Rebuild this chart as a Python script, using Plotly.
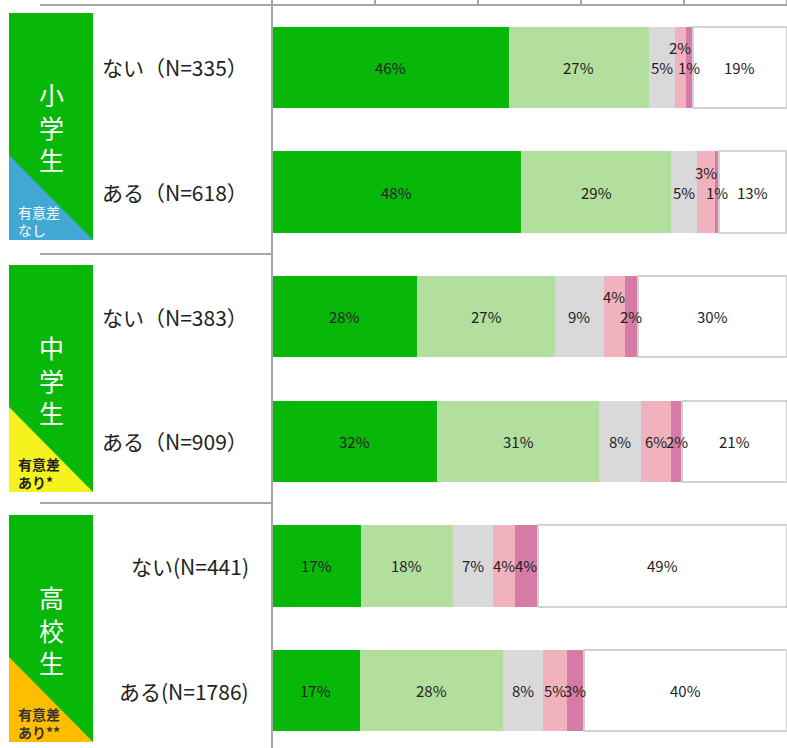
import plotly.graph_objects as go

# ---------------- data ----------------
row_keys = ["小学生・ない", "小学生・ある", "中学生・ない", "中学生・ある", "高校生・ない", "高校生・ある"]
row_labels = ["ない（N=335）", "ある（N=618）", "ない（N=383）", "ある（N=909）", "ない(N=441)", "ある(N=1786)"]
group_names = ["小<br>学<br>生", "中<br>学<br>生", "高<br>校<br>生"]
group_notes = ["有意差<br>なし", "有意差<br>あり*", "有意差<br>あり**"]

# bar lengths (percent)
s1 = [46.0, 48.4, 28.2, 32.1, 17.3, 17.0]
s2 = [27.2, 29.1, 26.8, 31.4, 17.8, 27.9]
s3 = [5.1, 5.1, 9.4, 8.2, 7.8, 7.7]
s4 = [2.0, 3.4, 4.2, 5.8, 4.3, 4.7]
s5 = [1.4, 0.8, 2.4, 2.1, 4.4, 3.2]
s6 = [18.3, 13.1, 29.0, 20.4, 48.4, 39.5]
series = [s1, s2, s3, s4, s5, s6]

# printed labels
t1 = [46, 48, 28, 32, 17, 17]
t2 = [27, 29, 27, 31, 18, 28]
t3 = [5, 5, 9, 8, 7, 8]
t4 = [2, 3, 4, 6, 4, 5]
t5 = [1, 1, 2, 2, 4, 3]
t6 = [19, 13, 30, 21, 49, 40]
texts = [t1, t2, t3, t4, t5, t6]

# ---------------- styles ----------------
colors = ["#08B808", "#B2DE9E", "#D9D9D9", "#F0B3BE", "#D57BA5", "#FFFFFF"]
note_colors = ["#41A8D5", "#F5F21E", "#FFBD00"]
note_text_colors = ["#FFFFFF", "#222222", "#333333"]
raised = {(0, 3), (1, 3), (2, 3)}  # small labels lifted above the others
FONT = "Noto Sans CJK JP"
W, H = 787, 748
L, T = 272, 5
PW, PH = W - L, H - T


def px(x):
    return (x - L) / PW


def py(y):
    return (H - y) / PH


fig = go.Figure()
for i, vals in enumerate(series):
    fig.add_trace(go.Bar(
        y=row_keys, x=vals, orientation="h", width=0.65,
        marker=dict(color=colors[i],
                    line=dict(color="#D2D2D2" if i == 5 else colors[i], width=2 if i == 5 else 0)),
        hoverinfo="skip", showlegend=False,
    ))

ann = []
for r, key in enumerate(row_keys):
    cum = 0
    for i, vals in enumerate(series):
        v = vals[r]
        ann.append(dict(x=cum + v / 2, y=key, xref="x", yref="y", text=f"{texts[i][r]}%",
                        xanchor="center", yanchor="middle",
                        showarrow=False, font=dict(family=FONT, size=15, color="#222222"),
                        yshift=20 if (r, i) in raised else 0))
        cum += v

# row labels
for r, lab in enumerate(row_labels):
    if r < 4:
        ann.append(dict(x=px(100), y=row_keys[r], xref="paper", yref="y", text=lab,
                        xanchor="left", yanchor="middle",
                        showarrow=False, font=dict(family=FONT, size=21, color="#222222")))
    else:
        ann.append(dict(x=px(251), y=row_keys[r], xref="paper", yref="y", text=lab,
                        xanchor="right", yanchor="middle",
                        showarrow=False, font=dict(family=FONT, size=21, color="#222222")))

shapes = []
box_tops = [13, 265, 515]
box_bottoms = [240, 492, 742]
for g in range(3):
    t, b = box_tops[g], box_bottoms[g]
    shapes.append(dict(type="rect", xref="paper", yref="paper", x0=px(9), x1=px(93), y0=py(b), y1=py(t),
                       fillcolor="#08B808", line=dict(width=0), layer="above"))
    path = f"M {px(9)},{py(b - 85)} L {px(9)},{py(b)} L {px(93)},{py(b)} Z"
    shapes.append(dict(type="path", xref="paper", yref="paper", path=path,
                       fillcolor=note_colors[g], line=dict(width=0), layer="above"))
    ann.append(dict(x=px(51), y=py(t + 114), xref="paper", yref="paper", text=group_names[g],
                    xanchor="center", yanchor="middle",
                    showarrow=False, font=dict(family=FONT, size=25, color="#FFFFFF")))
    ann.append(dict(x=px(16), y=py(b - 19), xref="paper", yref="paper", text=group_notes[g],
                    xanchor="left", yanchor="middle", align="left", showarrow=False,
                    font=dict(family=FONT, size=14, color=note_text_colors[g],
                              weight="bold" if g else "normal")))

# separators and axis lines
for yy in [5, 254, 503]:
    shapes.append(dict(type="line", xref="paper", yref="paper", x0=px(40), x1=px(272 if yy != 5 else 787),
                       y0=py(yy), y1=py(yy), line=dict(color="#A6A6A6", width=2), layer="above"))
shapes.append(dict(type="line", xref="paper", yref="paper", x0=0, x1=0, y0=0, y1=py(0),
                   line=dict(color="#A6A6A6", width=2), layer="above"))

fig.update_layout(
    width=W, height=H, margin=dict(l=L, r=0, t=T, b=0),
    paper_bgcolor="white", plot_bgcolor="white", barmode="stack", bargap=0,
    xaxis=dict(range=[0, 100], side="top", showgrid=False, zeroline=False, showticklabels=False,
               ticks="outside", ticklen=5, tickcolor="#A6A6A6", tickwidth=2, dtick=20, tick0=0),
    yaxis=dict(type="category", categoryorder="array", categoryarray=row_keys, range=[5.46, -0.5],
               showticklabels=False, showgrid=False, zeroline=False),
    shapes=shapes, annotations=ann,
)

fig.write_html("out.html", config={"displayModeBar": False},
               post_script="document.body.style.margin='0';document.body.style.overflow='hidden';")
